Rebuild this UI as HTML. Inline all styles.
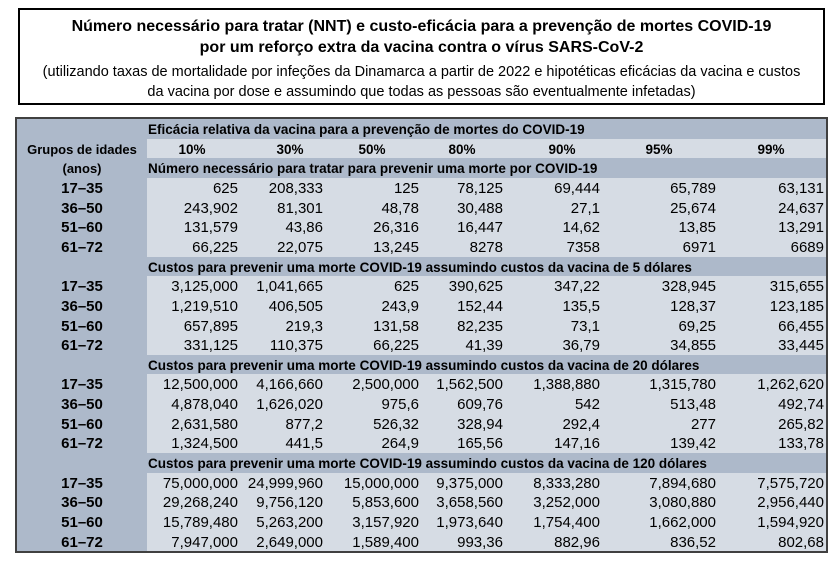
<!DOCTYPE html>
<html>
<head>
<meta charset="utf-8">
<style>
  html,body{margin:0;padding:0;background:#fff;}
  body{width:836px;height:565px;position:relative;overflow:hidden;font-family:"Liberation Sans",Arial,sans-serif;color:#000;}
  .box{position:absolute;left:18px;top:8px;width:807px;height:97px;border:2px solid #000;box-sizing:border-box;}
  .tl{position:absolute;left:18px;width:807px;text-align:center;white-space:nowrap;}
  .t1{font-weight:bold;font-size:16px;height:20px;line-height:20px;}
  .t2{font-size:14.5px;height:20px;line-height:20px;}
  .tbl{position:absolute;left:15px;top:117px;width:813px;height:436px;border:2px solid #404040;box-sizing:border-box;background:#adb9ca;}
  .lt{position:absolute;left:147px;width:679px;background:#d6dce4;}
  .r{position:absolute;left:0;width:836px;height:19.65px;line-height:19.65px;white-space:nowrap;}
  .lb{position:absolute;left:17px;width:130px;text-align:center;font-weight:bold;font-size:15px;}
  .lbt{position:absolute;left:17px;width:130px;text-align:center;font-weight:bold;font-size:13px;}
  .sh{position:absolute;left:148px;font-weight:bold;font-size:13.5px;}
  .v{position:absolute;font-size:15px;text-align:right;}
  .c1{right:598px}.c2{right:513px}.c3{right:417px}.c4{right:333px}.c5{right:236px}.c6{right:120px}.c7{right:12px}
  .p{position:absolute;width:60px;text-align:center;font-weight:bold;font-size:13.5px;}
</style>
</head>
<body>
<div class="box"></div>
<div class="tl t1" style="top:17px">Número necessário para tratar (NNT) e custo-eficácia para a prevenção de mortes COVID-19</div>
<div class="tl t1" style="top:38px">por um reforço extra da vacina contra o vírus SARS-CoV-2</div>
<div class="tl t2" style="top:62px">(utilizando taxas de mortalidade por infeções da Dinamarca a partir de 2022 e hipotéticas eficácias da vacina e custos</div>
<div class="tl t2" style="top:82px">da vacina por dose e assumindo que todas as pessoas são eventualmente infetadas)</div>

<div class="tbl"></div>
<div class="lt" style="top:138.65px;height:19.65px"></div>
<div class="lt" style="top:177.95px;height:78.6px"></div>
<div class="lt" style="top:276.2px;height:78.6px"></div>
<div class="lt" style="top:374.45px;height:78.6px"></div>
<div class="lt" style="top:472.7px;height:78.6px"></div>

<div class="r" style="top:120px"><span class="sh">Eficácia relativa da vacina para a prevenção de mortes do COVID-19</span></div>
<div class="r" style="top:139.65px"><span class="lbt">Grupos de idades</span>
<span class="p" style="left:162px">10%</span><span class="p" style="left:260px">30%</span><span class="p" style="left:342px">50%</span><span class="p" style="left:432px">80%</span><span class="p" style="left:532px">90%</span><span class="p" style="left:629px">95%</span><span class="p" style="left:741px">99%</span></div>
<div class="r" style="top:159.3px"><span class="lbt">(anos)</span><span class="sh">Número necessário para tratar para prevenir uma morte por COVID-19</span></div>

<div class="r" style="top:178.95px"><span class="lb">17–35</span><span class="v c1">625</span><span class="v c2">208,333</span><span class="v c3">125</span><span class="v c4">78,125</span><span class="v c5">69,444</span><span class="v c6">65,789</span><span class="v c7">63,131</span></div>
<div class="r" style="top:198.6px"><span class="lb">36–50</span><span class="v c1">243,902</span><span class="v c2">81,301</span><span class="v c3">48,78</span><span class="v c4">30,488</span><span class="v c5">27,1</span><span class="v c6">25,674</span><span class="v c7">24,637</span></div>
<div class="r" style="top:218.25px"><span class="lb">51–60</span><span class="v c1">131,579</span><span class="v c2">43,86</span><span class="v c3">26,316</span><span class="v c4">16,447</span><span class="v c5">14,62</span><span class="v c6">13,85</span><span class="v c7">13,291</span></div>
<div class="r" style="top:237.9px"><span class="lb">61–72</span><span class="v c1">66,225</span><span class="v c2">22,075</span><span class="v c3">13,245</span><span class="v c4">8278</span><span class="v c5">7358</span><span class="v c6">6971</span><span class="v c7">6689</span></div>

<div class="r" style="top:257.55px"><span class="sh">Custos para prevenir uma morte COVID-19 assumindo custos da vacina de 5 dólares</span></div>
<div class="r" style="top:277.2px"><span class="lb">17–35</span><span class="v c1">3,125,000</span><span class="v c2">1,041,665</span><span class="v c3">625</span><span class="v c4">390,625</span><span class="v c5">347,22</span><span class="v c6">328,945</span><span class="v c7">315,655</span></div>
<div class="r" style="top:296.85px"><span class="lb">36–50</span><span class="v c1">1,219,510</span><span class="v c2">406,505</span><span class="v c3">243,9</span><span class="v c4">152,44</span><span class="v c5">135,5</span><span class="v c6">128,37</span><span class="v c7">123,185</span></div>
<div class="r" style="top:316.5px"><span class="lb">51–60</span><span class="v c1">657,895</span><span class="v c2">219,3</span><span class="v c3">131,58</span><span class="v c4">82,235</span><span class="v c5">73,1</span><span class="v c6">69,25</span><span class="v c7">66,455</span></div>
<div class="r" style="top:336.15px"><span class="lb">61–72</span><span class="v c1">331,125</span><span class="v c2">110,375</span><span class="v c3">66,225</span><span class="v c4">41,39</span><span class="v c5">36,79</span><span class="v c6">34,855</span><span class="v c7">33,445</span></div>

<div class="r" style="top:355.8px"><span class="sh">Custos para prevenir uma morte COVID-19 assumindo custos da vacina de 20 dólares</span></div>
<div class="r" style="top:375.45px"><span class="lb">17–35</span><span class="v c1">12,500,000</span><span class="v c2">4,166,660</span><span class="v c3">2,500,000</span><span class="v c4">1,562,500</span><span class="v c5">1,388,880</span><span class="v c6">1,315,780</span><span class="v c7">1,262,620</span></div>
<div class="r" style="top:395.1px"><span class="lb">36–50</span><span class="v c1">4,878,040</span><span class="v c2">1,626,020</span><span class="v c3">975,6</span><span class="v c4">609,76</span><span class="v c5">542</span><span class="v c6">513,48</span><span class="v c7">492,74</span></div>
<div class="r" style="top:414.75px"><span class="lb">51–60</span><span class="v c1">2,631,580</span><span class="v c2">877,2</span><span class="v c3">526,32</span><span class="v c4">328,94</span><span class="v c5">292,4</span><span class="v c6">277</span><span class="v c7">265,82</span></div>
<div class="r" style="top:434.4px"><span class="lb">61–72</span><span class="v c1">1,324,500</span><span class="v c2">441,5</span><span class="v c3">264,9</span><span class="v c4">165,56</span><span class="v c5">147,16</span><span class="v c6">139,42</span><span class="v c7">133,78</span></div>

<div class="r" style="top:454.05px"><span class="sh">Custos para prevenir uma morte COVID-19 assumindo custos da vacina de 120 dólares</span></div>
<div class="r" style="top:473.7px"><span class="lb">17–35</span><span class="v c1">75,000,000</span><span class="v c2">24,999,960</span><span class="v c3">15,000,000</span><span class="v c4">9,375,000</span><span class="v c5">8,333,280</span><span class="v c6">7,894,680</span><span class="v c7">7,575,720</span></div>
<div class="r" style="top:493.35px"><span class="lb">36–50</span><span class="v c1">29,268,240</span><span class="v c2">9,756,120</span><span class="v c3">5,853,600</span><span class="v c4">3,658,560</span><span class="v c5">3,252,000</span><span class="v c6">3,080,880</span><span class="v c7">2,956,440</span></div>
<div class="r" style="top:513px"><span class="lb">51–60</span><span class="v c1">15,789,480</span><span class="v c2">5,263,200</span><span class="v c3">3,157,920</span><span class="v c4">1,973,640</span><span class="v c5">1,754,400</span><span class="v c6">1,662,000</span><span class="v c7">1,594,920</span></div>
<div class="r" style="top:532.65px"><span class="lb">61–72</span><span class="v c1">7,947,000</span><span class="v c2">2,649,000</span><span class="v c3">1,589,400</span><span class="v c4">993,36</span><span class="v c5">882,96</span><span class="v c6">836,52</span><span class="v c7">802,68</span></div>
</body>
</html>
